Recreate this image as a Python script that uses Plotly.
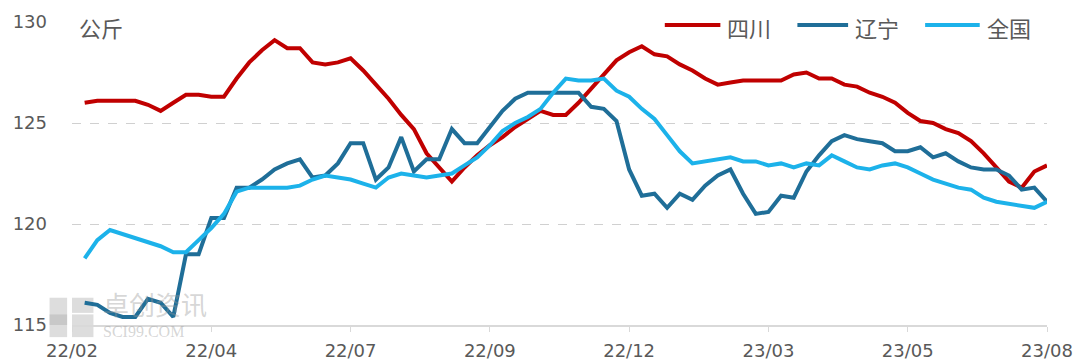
import plotly.graph_objects as go

# Weekly pork-carcass yield (kg per head), Feb 2022 - Aug 2023
tick_labels = ["22/02", "22/04", "22/07", "22/09", "22/12", "23/03", "23/05", "23/08"]

sichuan = [
    126.0, 126.1, 126.1, 126.1, 126.1, 125.9, 125.6, 126.0, 126.4, 126.4,
    126.3, 126.3, 127.2, 128.0, 128.6, 129.1, 128.7, 128.7, 128.0, 127.9,
    128.0, 128.2, 127.6, 126.9, 126.2, 125.4, 124.7, 123.5, 122.8, 122.1,
    122.8, 123.4, 123.9, 124.3, 124.8, 125.2, 125.6, 125.4, 125.4, 126.0,
    126.7, 127.4, 128.1, 128.5, 128.8, 128.4, 128.3, 127.9, 127.6, 127.2,
    126.9, 127.0, 127.1, 127.1, 127.1, 127.1, 127.4, 127.5, 127.2, 127.2,
    126.9, 126.8, 126.5, 126.3, 126.0, 125.5, 125.1, 125.0, 124.7, 124.5,
    124.1, 123.5, 122.8, 122.1, 121.8, 122.6, 122.9,
]

liaoning = [
    116.1, 116.0, 115.6, 115.4, 115.4, 116.3, 116.1, 115.4, 118.5, 118.5,
    120.3, 120.3, 121.8, 121.8, 122.2, 122.7, 123.0, 123.2, 122.3, 122.4,
    123.0, 124.0, 124.0, 122.2, 122.8, 124.3, 122.6, 123.2, 123.2, 124.7,
    124.0, 124.0, 124.8, 125.6, 126.2, 126.5, 126.5, 126.5, 126.5, 126.5,
    125.8, 125.7, 125.1, 122.7, 121.4, 121.5, 120.8, 121.5, 121.2, 121.9,
    122.4, 122.7, 121.5, 120.5, 120.6, 121.4, 121.3, 122.6, 123.4, 124.1,
    124.4, 124.2, 124.1, 124.0, 123.6, 123.6, 123.8, 123.3, 123.5, 123.1,
    122.8, 122.7, 122.7, 122.4, 121.7, 121.8, 121.1,
]

national = [
    118.3, 119.2, 119.7, 119.5, 119.3, 119.1, 118.9, 118.6, 118.6, 119.2,
    119.8, 120.5, 121.6, 121.8, 121.8, 121.8, 121.8, 121.9, 122.2, 122.4,
    122.3, 122.2, 122.0, 121.8, 122.3, 122.5, 122.4, 122.3, 122.4, 122.5,
    122.9, 123.3, 123.9, 124.6, 125.0, 125.3, 125.7, 126.5, 127.2, 127.1,
    127.1, 127.2, 126.6, 126.3, 125.7, 125.2, 124.4, 123.6, 123.0, 123.1,
    123.2, 123.3, 123.1, 123.1, 122.9, 123.0, 122.8, 123.0, 122.9, 123.4,
    123.1, 122.8, 122.7, 122.9, 123.0, 122.8, 122.5, 122.2, 122.0, 121.8,
    121.7, 121.3, 121.1, 121.0, 120.9, 120.8, 121.1,
]

series_names = ["四川", "辽宁", "全国"]
series_colors = ["#c00000", "#1f6e98", "#1cb2ea"]

weeks = list(range(1, len(sichuan) + 1))
tick_pos = [i * 11 for i in range(len(tick_labels))]

TEXT = "#595959"
CJK = "Noto Sans CJK SC"
NUM = "DejaVu Sans"

fig = go.Figure()
for name, values, color in zip(series_names, [sichuan, liaoning, national], series_colors):
    fig.add_trace(go.Scatter(
        x=weeks, y=values, name=name, mode="lines",
        line=dict(color=color, width=4, shape="linear"),
        showlegend=False, hoverinfo="x+y+name",
    ))

# Hand-drawn legend row along the top edge (wide line samples)
legend_items = [
    (0.608, 0.665, 0.670),
    (0.744, 0.796, 0.801),
    (0.875, 0.931, 0.936),
]
shapes = []
annotations = []
for (x0, x1, xt), name, color in zip(legend_items, series_names, series_colors):
    shapes.append(dict(type="line", xref="paper", yref="paper", x0=x0, x1=x1,
                       y0=0.99, y1=0.99, line=dict(color=color, width=4)))
    annotations.append(dict(xref="paper", yref="paper", x=xt, y=0.985,
                            xanchor="left", yanchor="middle", text=name,
                            showarrow=False, font=dict(size=22, color=TEXT, family=CJK)))

# Unit label
annotations.append(dict(xref="paper", yref="paper", x=0.005, y=0.985,
                        xanchor="left", yanchor="middle", text="公斤",
                        showarrow=False, font=dict(size=22, color=TEXT, family=CJK)))

# Faint source watermark in the lower-left corner
for sx0, sy0, sx1, sy1 in [(-0.023, 0.09, -0.005, 0.0), (0.0, 0.09, 0.022, 0.04),
                           (-0.023, 0.035, -0.005, -0.04), (0.0, 0.035, 0.022, -0.04)]:
    shapes.append(dict(type="rect", xref="paper", yref="paper", x0=sx0, x1=sx1,
                       y0=sy0, y1=sy1, fillcolor="rgba(170,170,170,0.4)",
                       line=dict(width=0), layer="below"))
annotations.append(dict(xref="paper", yref="paper", x=0.03, y=0.07,
                        xanchor="left", yanchor="middle", text="卓创资讯",
                        showarrow=False,
                        font=dict(size=26, color="rgba(150,150,150,0.4)", family=CJK)))
annotations.append(dict(xref="paper", yref="paper", x=0.03, y=-0.02,
                        xanchor="left", yanchor="middle", text="SCI99.COM",
                        showarrow=False,
                        font=dict(size=16, color="rgba(150,150,150,0.4)",
                                  family="Liberation Serif")))

fig.update_layout(
    width=1082, height=362,
    margin=dict(l=72, r=35, t=22, b=37, autoexpand=False),
    paper_bgcolor="white", plot_bgcolor="white",
    font=dict(family=NUM, color=TEXT, size=18),
    shapes=shapes, annotations=annotations,
    hovermode="closest",
    xaxis=dict(
        range=[0, 77], tickmode="array", tickvals=tick_pos, ticktext=tick_labels,
        showgrid=False, zeroline=False, automargin=False,
        showline=True, linecolor="#d9d9d9", linewidth=2,
        ticks="outside", ticklen=5, tickcolor="#d9d9d9", tickwidth=1,
        ticklabelstandoff=3,
        tickfont=dict(size=18, color=TEXT, family=NUM),
    ),
    yaxis=dict(
        range=[115, 130], tickmode="array", tickvals=[115, 120, 125, 130],
        showgrid=True, gridcolor="#d0d0d0", griddash="dash", gridwidth=1,
        zeroline=False, showline=False, ticks="", automargin=False,
        ticklabelstandoff=24,
        tickfont=dict(size=18, color=TEXT, family=NUM),
    ),
)

fig.write_html("out.html")
